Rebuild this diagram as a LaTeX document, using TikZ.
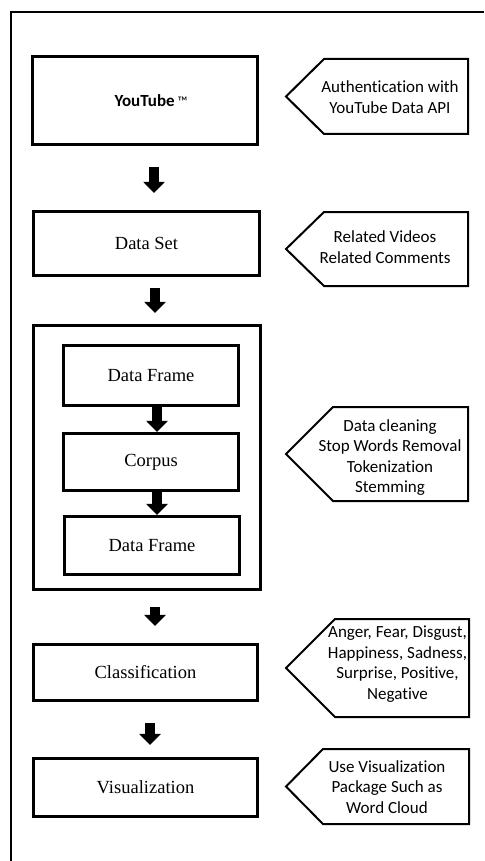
\documentclass[tikz,border=0pt]{standalone}
\usepackage{fontspec}
\setmainfont{Liberation Serif}
\newfontfamily\calibrifont[Ligatures=NoCommon]{Carlito}
\usetikzlibrary{arrows.meta}

\tikzset{
  stage/.style={draw, line width=3.2pt, inner sep=0pt, font=\fontsize{18.5}{22}\selectfont},
  tagtext/.style={align=center, inner sep=0pt, font=\calibrifont\fontsize{17}{20.5}\selectfont},
  tagline/.style={line width=2pt, line join=miter},
  flowarrow/.style={line width=9.5pt, -{Triangle[length=11pt,width=21pt]}},
  frameline/.style={line width=2pt}
}
% pentagon tag: x left, x right, y top, y bottom, x of the tip
\newcommand{\tagshape}[5]{\draw[tagline] (#1,#3) -- (#2,#3) -- (#2,#4) -- (#1,#4) -- (#5,{(#3+#4)/2}) -- cycle;}

\begin{document}
\begin{tikzpicture}[x=1pt, y=-1pt]
    \useasboundingbox (0,0) rectangle (484,861);
    \draw[frameline] (11,861) -- (11,12) -- (484,12);

    % main column
    \node[stage, minimum width=225, minimum height=88] (yt)  at (145,100.5)
        {\hspace*{12pt}\calibrifont\bfseries\fontsize{17}{20}\selectfont YouTube\,{\mdseries\fontsize{14}{14}\selectfont ™}};
    \node[stage, minimum width=226, minimum height=64] (ds)  at (146.5,243.5) {Data Set};
    \node[stage, minimum width=227, minimum height=264] (grp) at (147,457.5) {};
    \node[stage, minimum width=175, minimum height=60] (df1) at (151,375.5) {Data Frame};
    \node[stage, minimum width=175, minimum height=57] (cp)  at (151,462)   {Corpus};
    \node[stage, minimum width=175, minimum height=58] (df2) at (152,545.5) {Data Frame};
    \node[stage, minimum width=224, minimum height=56] (cl)  at (145.5,672.5) {Classification};
    \node[stage, minimum width=224, minimum height=58] (vis) at (145.5,787.5) {Visualization};

    \draw[flowarrow, shorten <=21pt, shorten >=17pt] ([xshift=9pt]yt.south)   -- ([xshift=7.5pt]ds.north);
    \draw[flowarrow, shorten <=11pt, shorten >=11pt] ([xshift=8.5pt]ds.south)  -- ([xshift=8pt]grp.north);
    \draw[flowarrow] ([xshift=6pt]df1.south) -- ([xshift=6pt]cp.north);
    \draw[flowarrow] ([xshift=6pt]cp.south)  -- ([xshift=5pt]df2.north);
    \draw[flowarrow, shorten <=16pt, shorten >=17pt] ([xshift=8pt]grp.south)   -- ([xshift=9.5pt]cl.north);
    \draw[flowarrow, shorten <=21pt, shorten >=12pt] ([xshift=4.5pt]cl.south)  -- ([xshift=4.5pt]vis.north);

    % tags on the right
    \tagshape{324}{468}{59}{134}{286}
    \tagshape{324}{468}{212}{286}{286}
    \tagshape{333}{468}{407}{501}{286}
    \tagshape{335}{469}{619}{717}{286}
    \tagshape{323}{469}{749}{824}{286}

    \node[tagtext] (auth)  at (390,97)    {Authentication with\\YouTube Data API};
    \node[tagtext] (rel)   at (385,247)   {Related Videos\\Related Comments};
    \node[tagtext] (prep)  at (390,457.5) {Data cleaning\\Stop Words Removal\\Tokenization\\Stemming};
    \node[tagtext] (emo)   at (397.5,664) {Anger, Fear, Disgust,\\Happiness, Sadness,\\Surprise, Positive,\\Negative};
    \node[tagtext] (wcl)   at (387,787)   {Use Visualization\\Package Such as\\Word Cloud};
  \end{tikzpicture}
\end{document}
